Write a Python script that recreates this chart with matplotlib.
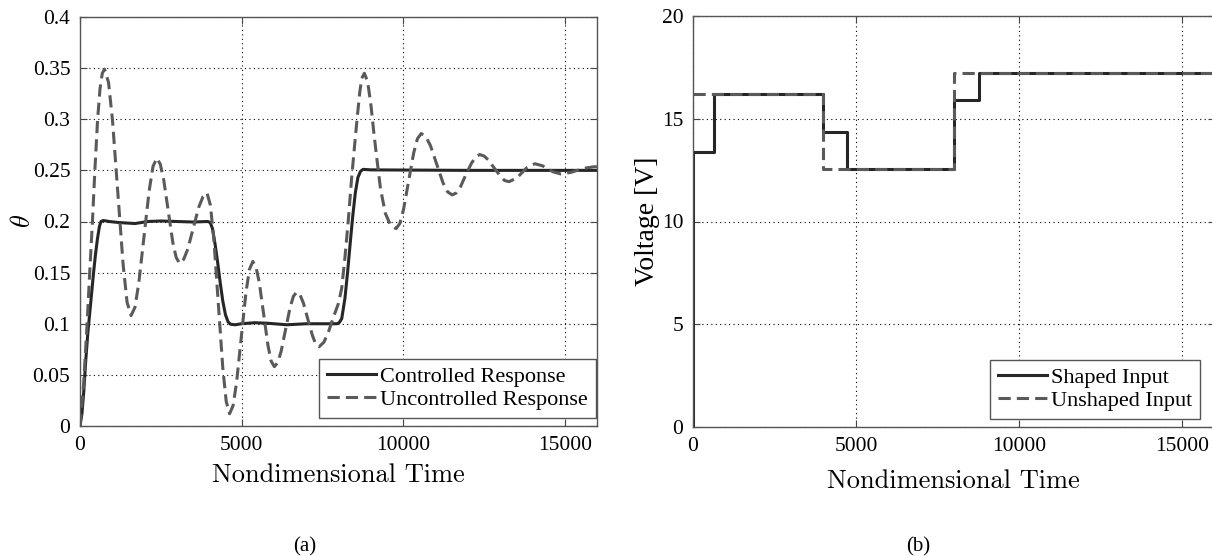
import numpy as np
import matplotlib
matplotlib.use('Agg')
import matplotlib.pyplot as plt

plt.rcParams['font.family'] = ['Liberation Serif', 'DejaVu Serif']
plt.rcParams['mathtext.fontset'] = 'cm'

# --- (a) angle response ---
t_ctrl = [0, 60, 120, 180, 240, 300, 360, 420, 480, 540, 600, 650, 720, 900, 1200,
          1700, 2100, 2500, 3000, 3500, 3950, 4030, 4100, 4180, 4260, 4340, 4420,
          4500, 4580, 4660, 4800, 5000, 5400, 5800, 6400, 7000, 7600, 7950, 8020,
          8100, 8200, 8280, 8360, 8440, 8520, 8600, 8680, 8760, 9000, 12000, 16000]
theta_ctrl = [0, 0.012, 0.035, 0.065, 0.09, 0.11, 0.13, 0.15, 0.168, 0.183, 0.195, 0.2,
              0.201, 0.2, 0.199, 0.198, 0.2, 0.2005, 0.2, 0.1995, 0.2, 0.199, 0.193,
              0.178, 0.16, 0.14, 0.122, 0.109, 0.102, 0.0995, 0.099, 0.1, 0.101,
              0.1005, 0.099, 0.1, 0.1, 0.1, 0.101, 0.105, 0.125, 0.15, 0.178, 0.205,
              0.228, 0.243, 0.249, 0.251, 0.2505, 0.25, 0.25]

t_unctrl = [0, 110, 220, 300, 385, 460, 545, 620, 690, 760,
            883, 1006, 1170, 1334, 1457, 1580,
            1700, 1820, 1980, 2140, 2260, 2380,
            2485, 2590, 2730, 2870, 2975, 3080,
            3208, 3335, 3505, 3675, 3803, 3930,
            4035, 4140, 4280, 4420, 4525, 4630,
            4738, 4846, 4990, 5134, 5242, 5350,
            5450, 5550, 5683, 5816, 5915, 6015,
            6119, 6224, 6363, 6502, 6606, 6710,
            6814, 6917, 7055, 7193, 7297, 7400,
            7550, 7700, 7850, 8000, 8100, 8200, 8300, 8400, 8500, 8580, 8660, 8720, 8800,
            8900, 9000, 9100, 9200, 9300, 9450, 9600, 9780,
            9897, 10014, 10170, 10326, 10443, 10560,
            10704, 10848, 11040, 11232, 11376, 11520,
            11648, 11775, 11945, 12115, 12243, 12370,
            12507, 12643, 12825, 13007, 13144, 13280,
            13520, 13680, 13840, 14080,
            14320, 14480, 14640, 14880,
            15186, 15390, 15594, 15900, 16000]
theta_unctrl = [0, 0.04, 0.1, 0.15, 0.2, 0.25, 0.3, 0.33, 0.345, 0.349,
                0.336, 0.299, 0.2285, 0.158, 0.121, 0.108,
                0.116, 0.140, 0.185, 0.230, 0.254, 0.262,
                0.256, 0.241, 0.2105, 0.180, 0.165, 0.159,
                0.163, 0.173, 0.1935, 0.214, 0.224, 0.228,
                0.216, 0.1835, 0.12, 0.0565, 0.024, 0.012,
                0.020, 0.0427, 0.0865, 0.130, 0.153, 0.161,
                0.155, 0.140, 0.1095, 0.079, 0.0635, 0.058,
                0.062, 0.073, 0.0945, 0.116, 0.127, 0.131,
                0.128, 0.120, 0.104, 0.0885, 0.080, 0.0775,
                0.082, 0.093, 0.107, 0.12, 0.135, 0.165, 0.2, 0.24, 0.275, 0.302, 0.327, 0.34, 0.345,
                0.337, 0.315, 0.285, 0.258, 0.232, 0.208, 0.197, 0.193,
                0.198, 0.212, 0.2395, 0.267, 0.281, 0.286,
                0.283, 0.274, 0.256, 0.238, 0.229, 0.226,
                0.228, 0.234, 0.246, 0.257, 0.263, 0.2655,
                0.264, 0.260, 0.252, 0.2445, 0.240, 0.239,
                0.2426, 0.2478, 0.253, 0.2565,
                0.2544, 0.2515, 0.2486, 0.2465,
                0.248, 0.25, 0.252, 0.2535, 0.2535]

# --- (b) input voltage (step levels) ---
t_shaped = [0, 0, 655, 4000, 4730, 8000, 8780, 16000]
v_shaped = [0, 13.4, 16.2, 14.35, 12.55, 15.9, 17.25, 17.25]
t_unshaped = [0, 4000, 8000, 16000]
v_unshaped = [16.2, 12.55, 17.25, 17.25]

x_ticks = [0, 5000, 10000, 15000]
theta_ticks = [0, 0.05, 0.1, 0.15, 0.2, 0.25, 0.3, 0.35, 0.4]
theta_ticklabels = ['0', '0.05', '0.1', '0.15', '0.2', '0.25', '0.3', '0.35', '0.4']
v_ticks = [0, 5, 10, 15, 20]

solid_col = '#262626'
dash_col = '#5a5a5a'
tick_fs = 15.5
leg_fs = 16


def style_axes(ax, xpad):
    ax.grid(True, linestyle=(0, (1, 3)), color='black', linewidth=0.8)
    ax.tick_params(direction='in', top=True, right=True, length=5, width=0.8,
                   labelsize=tick_fs, colors='#444444', labelcolor='black', pad=7)
    for s in ax.spines.values():
        s.set_color('#555555')
        s.set_linewidth(1.0)
    ax.set_xlim(0, 16000)
    ax.set_xticks(x_ticks)
    ax.set_xticklabels([str(v) for v in x_ticks])
    ax.set_xlabel('Nondimensional Time', family='cmr10', fontsize=19, labelpad=xpad)


fig = plt.figure(figsize=(12.12, 5.56), dpi=100)

ax1 = fig.add_axes([80 / 1212, 1 - 426 / 556, 517 / 1212, 409 / 556])
ax1.plot(t_ctrl, theta_ctrl, color=solid_col, lw=2.2, label='Controlled Response')
ax1.plot(t_unctrl, theta_unctrl, color=dash_col, lw=2.2, dashes=(4, 2),
         label='Uncontrolled Response')
style_axes(ax1, 6)
ax1.set_ylim(0, 0.4)
ax1.set_yticks(theta_ticks)
ax1.set_yticklabels(theta_ticklabels)
ax1.set_ylabel(r'$\theta$', fontsize=19, labelpad=-2)
leg1 = ax1.legend(loc='lower right', bbox_to_anchor=(0.998, 0.02), borderaxespad=0,
                  fontsize=leg_fs, fancybox=False, framealpha=1, edgecolor='#555555',
                  handlelength=2.2, handletextpad=0.2, labelspacing=0.1, borderpad=0.35)
leg1.get_frame().set_linewidth(1.0)

ax2 = fig.add_axes([693 / 1212, 1 - 427 / 556, 521.6 / 1212, 411 / 556])
ax2.step(t_shaped, v_shaped, where='post', color=solid_col, lw=2.2, label='Shaped Input')
ax2.step(t_unshaped, v_unshaped, where='post', color=dash_col, lw=2.2, dashes=(4, 2),
         label='Unshaped Input')
style_axes(ax2, 10)
ax2.set_ylim(0, 20)
ax2.set_yticks(v_ticks)
ax2.set_ylabel('Voltage [V]', fontsize=20, labelpad=1.5)
leg2 = ax2.legend(loc='lower right', bbox_to_anchor=(0.972, 0.02), borderaxespad=0,
                  fontsize=leg_fs, fancybox=False, framealpha=1, edgecolor='#555555',
                  handlelength=2.2, handletextpad=0.2, labelspacing=0.1, borderpad=0.35)
leg2.get_frame().set_linewidth(1.0)

fig.text(305 / 1212, 1 - 547 / 556, '(a)', fontsize=15, ha='center', va='center')
fig.text(918 / 1212, 1 - 547 / 556, '(b)', fontsize=15, ha='center', va='center')

fig.savefig('out.png', dpi=100)
